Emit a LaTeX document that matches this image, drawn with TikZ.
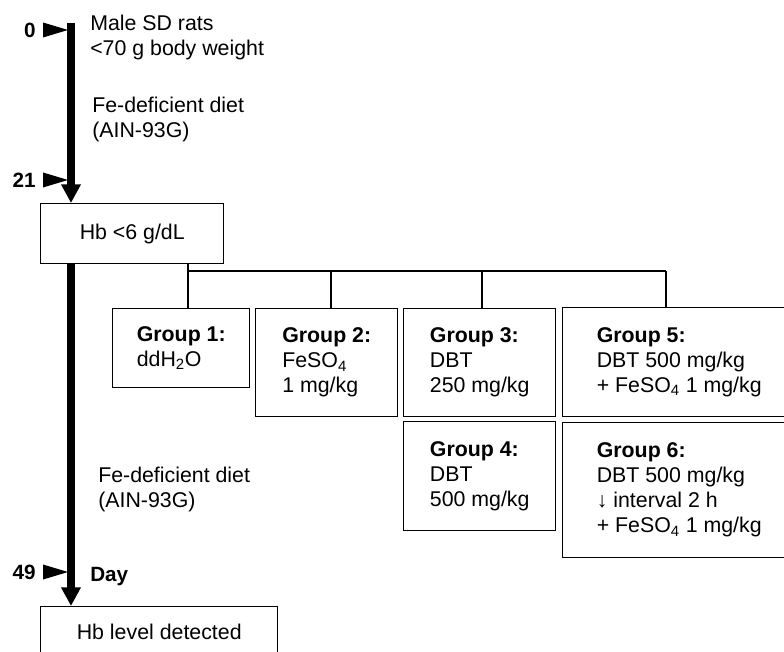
\documentclass[tikz,border=0pt]{standalone}
\usepackage{fontspec}
\setmainfont{Liberation Sans}
\usepackage{tikz}
\usetikzlibrary{arrows.meta}
\newcommand{\txtsize}{\fontsize{16}{18.75}\selectfont}
\newcommand{\daysize}{\fontsize{15.5}{18}\selectfont\bfseries}
\tikzset{
  grpbox/.style={draw, line width=1.1pt, align=left, anchor=north west, inner sep=0pt, font=\txtsize},
  lbl/.style={align=left, anchor=north west, inner sep=0pt, font=\txtsize},
  daylbl/.style={inner sep=0pt, font=\daysize},
  timeline/.style={line width=5.5pt, -{Triangle[width=14pt,length=14pt]}},
  branch/.style={line width=0.9pt}
}

\begin{document}
\begin{tikzpicture}[x=0.75pt,y=-0.75pt]
        \useasboundingbox (0,0) rectangle (784,652);
        %KOTAK HB
       \node[grpbox, minimum width=137.25pt, minimum height=45pt] (hb) at (40,203) {Hb <6 g/dL};
       \node[grpbox, minimum width=177.75pt, minimum height=37.5pt] (det) at (40,606) {Hb level detected};
        %GARIS WAKTU
       \coordinate (t0) at (71,23);
       \draw[timeline] (t0) -- (t0 |- hb.north);
       \draw[timeline] (hb.south -| t0) -- (det.north -| t0);
       \foreach \y/\d in {30/0, 180/21, 572/49}{
         \fill (43,\y-7.5) -- (68,\y) -- (43,\y+7.5) -- cycle;
         \node[daylbl, anchor=east] (d\d) at (36,\y) {\d};
       }
       \node[daylbl, anchor=west] (day) at (90,577) {Day};
        %TEKS
       \node[lbl] (rats) at (90,15) {Male SD rats\\<70 g body weight};
       \node[lbl] (diet1) at (92,97) {Fe-deficient diet\\(AIN-93G)};
       \node[lbl] (diet2) at (98,467) {Fe-deficient diet\\(AIN-93G)};
        %KELOMPOK
       \node[grpbox, minimum width=102.75pt, minimum height=59.25pt] (g1) at (112,308) {\textbf{Group 1:}\\ddH\textsubscript{2}O};
       \node[grpbox, minimum width=106.5pt, minimum height=81pt] (g2) at (255,308) {\textbf{Group 2:}\\FeSO\textsubscript{4}\\1 mg/kg};
       \node[grpbox, minimum width=114pt, minimum height=81pt] (g3) at (403,308) {\textbf{Group 3:}\\DBT\\250 mg/kg};
       \node[grpbox, minimum width=114pt, minimum height=81.75pt] (g4) at (403,421) {\textbf{Group 4:}\\DBT\\500 mg/kg};
       \node[grpbox, minimum width=174.75pt, minimum height=81.75pt] (g5) at (562,307) {\textbf{Group 5:}\\DBT 500 mg/kg\\+ FeSO\textsubscript{4} 1 mg/kg};
       \node[grpbox, minimum width=174.75pt, minimum height=101.25pt] (g6) at (562,422) {\textbf{Group 6:}\\DBT 500 mg/kg\\↓ interval 2 h\\+ FeSO\textsubscript{4} 1 mg/kg};
        %CABANG
       \coordinate (split) at (188,271);
       \coordinate (c2) at (331,271);
       \coordinate (c3) at (482,271);
       \coordinate (c4) at (666,271);
       \draw[branch] (hb.south -| split) -- (g1.north -| split);
       \draw[branch] (split) -- (c4);
       \draw[branch] (c2) -- (c2 |- g2.north);
       \draw[branch] (c3) -- (c3 |- g3.north);
       \draw[branch] (c4) -- (c4 |- g5.north);
    \end{tikzpicture}
\end{document}
